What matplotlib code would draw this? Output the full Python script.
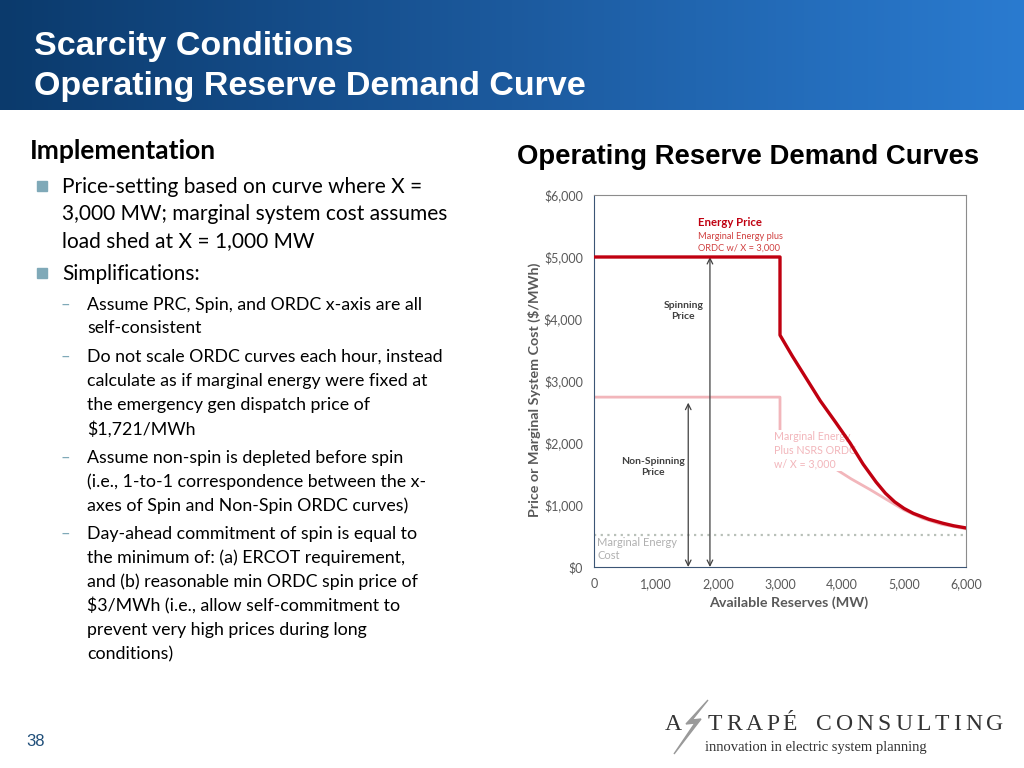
import numpy as np
import matplotlib.pyplot as plt
from matplotlib.patches import Polygon, Rectangle
from matplotlib.colors import LinearSegmentedColormap

# data
res_x = [0, 3000, 3000, 3200, 3450, 3650, 3900, 4130, 4340, 4550, 4700, 4850, 5000, 5150, 5400, 5630, 5800, 6000]
energy_price = [5000, 5000, 3740, 3400, 3000, 2680, 2330, 2000, 1660, 1370, 1190, 1050, 945, 865, 770, 705, 665, 630]

nsrs_x = [0, 3000, 3000, 3400, 3850, 4150, 4450, 4750, 5000, 5300, 5600, 6000]
nsrs_price = [2740, 2740, 1900, 1750, 1610, 1420, 1250, 1070, 920, 785, 690, 615]

marginal_cost = 520

spin_x, spin_top = 1870, 5000
nonspin_x, nonspin_top = 1520, 2650

yticks = [0, 1000, 2000, 3000, 4000, 5000, 6000]
xticks = [0, 1000, 2000, 3000, 4000, 5000, 6000]

body = 'Lato'
gray = '#595959'

fig = plt.figure(figsize=(10.24, 7.68), dpi=100)


def px(x, y):
    return x / 1024, 1 - y / 768


# header band
hax = fig.add_axes([0, 1 - 110 / 768, 1, 110 / 768])
grad = np.linspace(0, 1, 256).reshape(1, -1)
cmap = LinearSegmentedColormap.from_list('hdr', ['#0b3a6c', '#1c5a9e', '#2a7bd0'])
hax.imshow(grad, aspect='auto', cmap=cmap, extent=[0, 1, 0, 1])
hax.axis('off')
fig.text(*px(34, 47), 'Scarcity Conditions', color='white', fontsize=24.5,
         fontweight='bold', family='Liberation Sans', va='center')
fig.text(*px(34, 86), 'Operating Reserve Demand Curve', color='white', fontsize=24.5,
         fontweight='bold', family='Liberation Sans', va='center')

# left text block
fig.text(*px(30, 151), 'Implementation', fontsize=19, fontweight='bold', family=body, va='center')

bullets = [
    (187, 'Price-setting based on curve where X ='),
    (214, '3,000 MW; marginal system cost assumes'),
    (241, 'load shed at X = 1,000 MW'),
    (274, 'Simplifications:'),
]
for y, t in bullets:
    fig.text(*px(62, y), t, fontsize=15, family=body, va='center')
for y in (186, 273):
    fig.patches.append(Rectangle(px(37, y + 5), 10 / 1024, 10 / 768, transform=fig.transFigure,
                                 color='#7fa9b8', figure=fig))

subs = [
    (305, 'Assume PRC, Spin, and ORDC x-axis are all', True),
    (328, 'self-consistent', False),
    (357, 'Do not scale ORDC curves each hour, instead', True),
    (381, 'calculate as if marginal energy were fixed at', False),
    (405, 'the emergency gen dispatch price of', False),
    (429, '$1,721/MWh', False),
    (458, 'Assume non-spin is depleted before spin', True),
    (482, '(i.e., 1-to-1 correspondence between the x-', False),
    (506, 'axes of Spin and Non-Spin ORDC curves)', False),
    (534, 'Day-ahead commitment of spin is equal to', True),
    (558, 'the minimum of: (a) ERCOT requirement,', False),
    (582, 'and (b) reasonable min ORDC spin price of', False),
    (606, '$3/MWh (i.e., allow self-commitment to', False),
    (630, 'prevent very high prices during long', False),
    (654, 'conditions)', False),
]
for y, t, dash in subs:
    fig.text(*px(87, y), t, fontsize=12.8, family=body, va='center')
    if dash:
        fig.text(*px(61, y), '\u2013', fontsize=12, family=body, va='center', color='#7fa9b8')

# page number
fig.text(*px(26, 741), '38', fontsize=12, family='Liberation Sans', color='#1f4e79', va='center')

# logo: letter-spaced wordmark
bolt = [(708, 700), (686, 724), (695, 723), (674, 754), (701, 719), (692, 720)]
fig.patches.append(Polygon([px(x, y) for x, y in bolt], closed=True, transform=fig.transFigure,
                           color='#9a9a9a', figure=fig))
fig.text(*px(665, 724), 'A', fontsize=17, family='Liberation Serif', color='#333333', va='center')
renderer = fig.canvas.get_renderer()
words = [('TRAPÉ', 708, 797), ('CONSULTING', 816, 1003)]
for word, x0, x1 in words:
    chars = [fig.text(0, 0, ch, fontsize=17, family='Liberation Serif', color='#333333',
                      va='center') for ch in word]
    widths = [c.get_window_extent(renderer).width for c in chars]
    track = (x1 - x0 - sum(widths)) / (len(chars) - 1)
    x = x0
    for c, w in zip(chars, widths):
        c.set_position(px(x, 724))
        x += w + track
fig.text(*px(705, 747), 'innovation in electric system planning', fontsize=10.5,
         family='Liberation Serif', color='#333333', va='center')

# chart
fig.text(*px(748, 157), 'Operating Reserve Demand Curves', fontsize=19.8, fontweight='bold',
         family='Liberation Sans', ha='center', va='center')

ax = fig.add_axes([594 / 1024, 1 - 567 / 768, 372 / 1024, 372 / 768])
ax.set_xlim(0, 6000)
ax.set_ylim(0, 6000)

ax.axhline(marginal_cost, color='#b8c0b8', lw=1.6, ls=(0, (1, 2)), zorder=1)
ax.plot(nsrs_x, nsrs_price, color='#f2b6bb', lw=2, zorder=2)
ax.plot(res_x, energy_price, color='#c00010', lw=2.4, zorder=4)

ax.annotate('', xy=(spin_x, spin_top), xytext=(spin_x, 0),
            arrowprops=dict(arrowstyle='<->', color='#404040', lw=0.9, shrinkA=0, shrinkB=0))
ax.annotate('', xy=(nonspin_x, nonspin_top), xytext=(nonspin_x, 0),
            arrowprops=dict(arrowstyle='<->', color='#404040', lw=0.9, shrinkA=0, shrinkB=0))

ax.text(1440, 4130, 'Spinning\nPrice', fontsize=7.5, fontweight='bold', family=body,
        color='#404040', ha='center', va='center', linespacing=1.3)
ax.text(950, 1610, 'Non-Spinning\nPrice', fontsize=7.5, fontweight='bold', family=body,
        color='#404040', ha='center', va='center', linespacing=1.3)

ax.text(1680, 5550, 'Energy Price', fontsize=8.2, fontweight='bold', family=body,
        color='#c00010', va='center')
ax.text(1680, 5240, 'Marginal Energy plus\nORDC w/ X = 3,000', fontsize=6.7, family=body,
        color='#d04040', va='center', linespacing=1.35)
ax.text(2900, 1880, 'Marginal Energy\nPlus NSRS ORDC\nw/ X = 3,000', fontsize=7.7, family=body,
        color='#f2b6bb', va='center', linespacing=1.3, zorder=3,
        bbox=dict(facecolor='white', edgecolor='none', pad=1))
ax.text(50, 290, 'Marginal Energy\nCost', fontsize=8, family=body, color='#b0b0b0',
        va='center', linespacing=1.3)

ax.set_yticks(yticks)
ax.set_yticklabels(['${:,}'.format(v) for v in yticks])
ax.set_xticks(xticks)
ax.set_xticklabels(['{:,}'.format(v) for v in xticks])
ax.tick_params(length=0, labelsize=9, labelcolor=gray, pad=8)
for lab in ax.get_xticklabels() + ax.get_yticklabels():
    lab.set_family(body)

ax.set_xlabel('Available Reserves (MW)', fontsize=10.3, fontweight='bold', family=body,
              color=gray)
ax.set_ylabel('Price or Marginal System Cost ($/MWh)', fontsize=10.3, fontweight='bold',
              family=body, color=gray)
ax.xaxis.set_label_coords(0.522, -0.078)
ax.yaxis.set_label_coords(-0.142, 0.476)

for s in ('top', 'right'):
    ax.spines[s].set_color('#8c8c8c')
for s in ('left', 'bottom'):
    ax.spines[s].set_color('#3b5575')

fig.savefig('out.png', dpi=100)
